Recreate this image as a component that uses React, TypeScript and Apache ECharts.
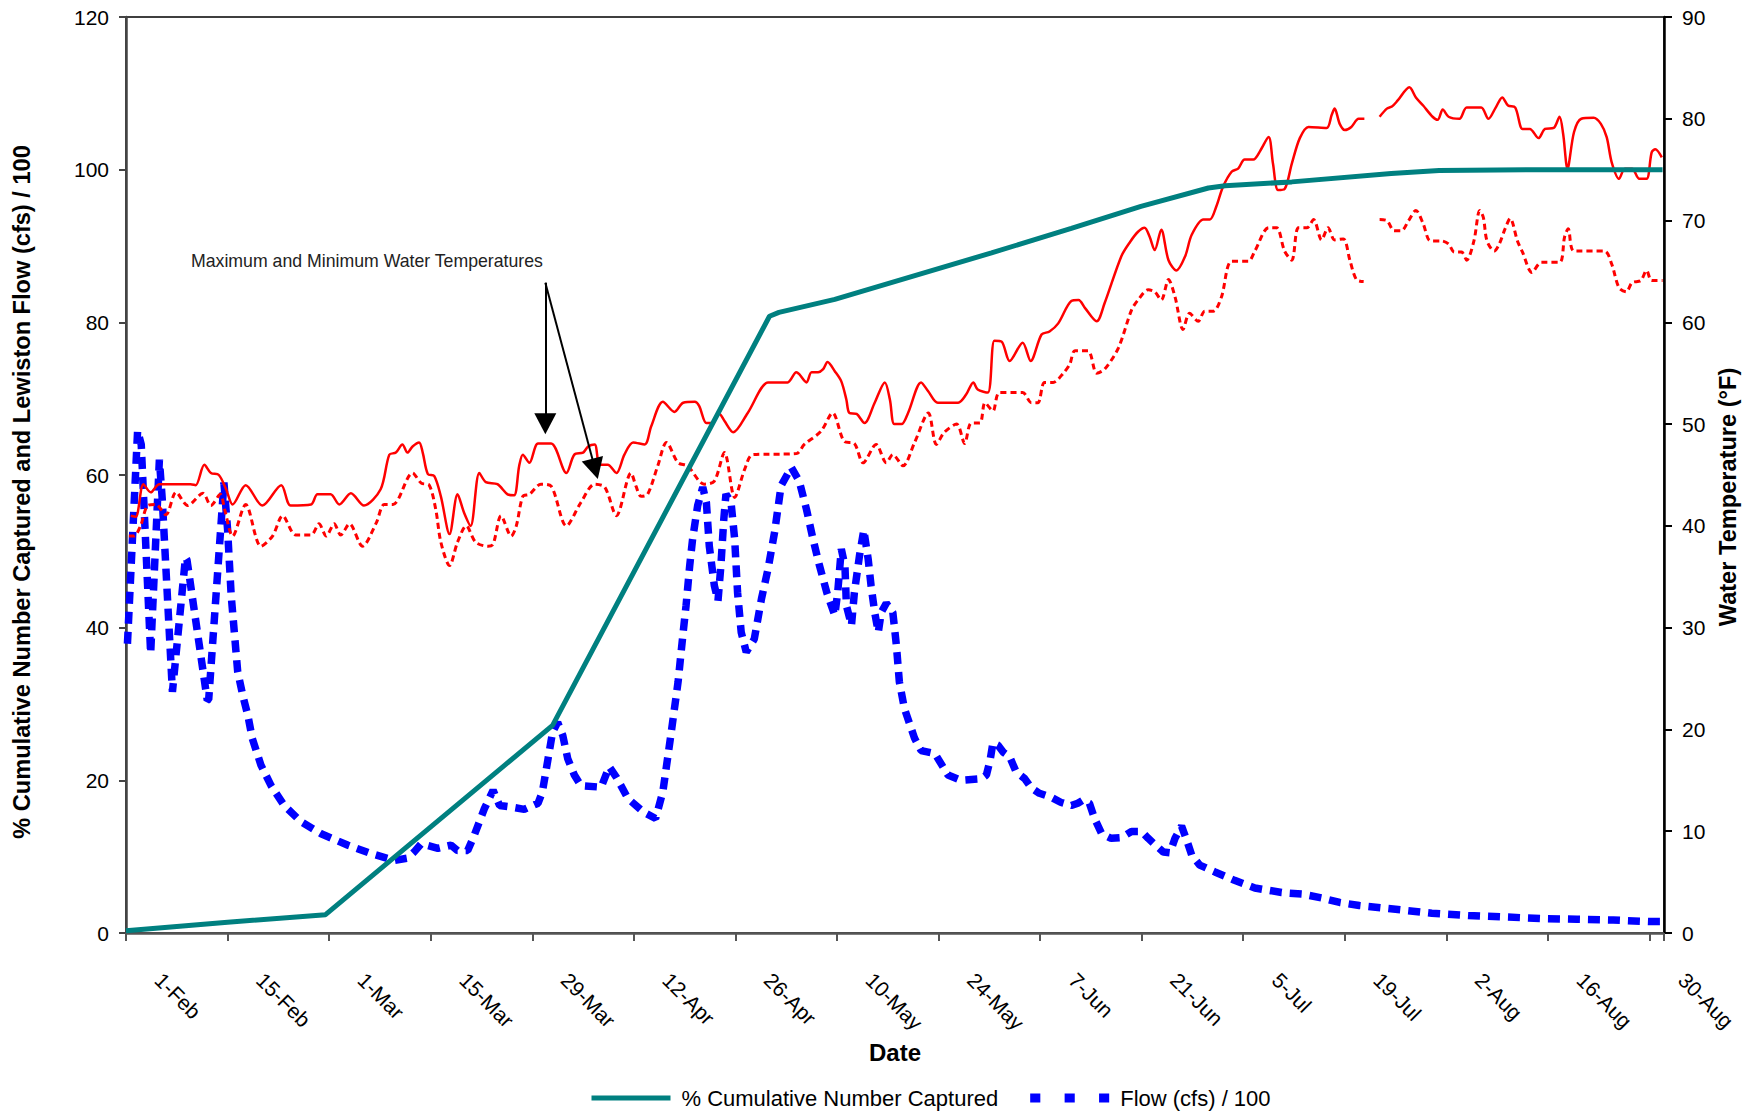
import React, { useEffect, useRef } from 'react';
import * as echarts from 'echarts';

const FONT = '"Liberation Sans", Arial, Helvetica, sans-serif';

// x values are days after 1-Feb
const tickLabels = ['1-Feb', '15-Feb', '1-Mar', '15-Mar', '29-Mar', '12-Apr', '26-Apr', '10-May', '24-May', '7-Jun', '21-Jun', '5-Jul', '19-Jul', '2-Aug', '16-Aug', '30-Aug'];

const capturePct: [number, number][] = [
  [0, 0.3], [14, 1.4], [27.5, 2.4], [58.8, 27.2], [88.7, 80.8], [90, 81.3], [97.7, 83.0], [119.3, 89.1],
  [130.3, 92.3], [139.9, 95.2], [149.2, 97.6], [151.5, 97.9], [160.7, 98.4], [174.4, 99.5], [181, 99.9],
  [195, 100], [211.8, 100],
];

const flow: [number, number][] = [
  [0.2, 37.9], [1.6, 65.8], [2.1, 64.0], [3.4, 36.6], [4.6, 62.0], [5.0, 56.8], [6.4, 31.6], [8.2, 49.2], [8.4, 48.9], [11.2, 30.5],
  [11.4, 30.6], [13.5, 59.0], [14.0, 52.9], [14.5, 44.2], [15.4, 34.2], [16.1, 31.1], [16.8, 28.5], [17.4, 25.5], [18.6, 22.0], [20.0, 19.3],
  [21.8, 16.7], [24.1, 14.6], [26.9, 13.0], [30.6, 11.5], [33.8, 10.4], [37.0, 9.5], [38.8, 9.8], [39.7, 10.6], [40.7, 11.7], [43.0, 11.1],
  [44.8, 11.5], [45.7, 10.8], [47.1, 10.8], [48.0, 12.8], [49.4, 16.3], [50.6, 18.7], [51.5, 16.7], [53.1, 16.5], [54.9, 16.2], [56.8, 17.0],
  [57.4, 18.5], [58.1, 22.4], [58.8, 26.3], [59.5, 27.6], [60.2, 25.9], [60.9, 22.8], [61.8, 20.7], [62.7, 19.3], [65.5, 19.1], [66.6, 21.8],
  [67.6, 20.4], [69.2, 17.6], [71.4, 15.8], [73.0, 15.0], [74.0, 18.5], [75.1, 25.9], [76.1, 32.9], [76.8, 39.4], [77.2, 42.9], [77.7, 48.1],
  [78.1, 51.6], [78.8, 56.0], [79.5, 58.4], [80.0, 56.4], [80.4, 50.7], [81.1, 45.5], [81.6, 43.5], [82.0, 48.1], [82.4, 54.2], [82.7, 57.5],
  [83.4, 56.4], [83.9, 51.6], [84.3, 44.6], [84.8, 39.4], [85.5, 36.8], [86.6, 38.5], [87.6, 43.8], [88.5, 47.7], [89.4, 52.5], [90.3, 58.6],
  [91.7, 61.0], [92.8, 59.2], [93.8, 55.5], [94.7, 51.6], [95.6, 48.1], [96.6, 44.6], [97.7, 41.6], [98.1, 44.6], [98.6, 50.3], [99.1, 48.1],
  [99.3, 42.9], [100.0, 40.3], [100.4, 44.6], [101.1, 49.4], [101.7, 52.8], [102.3, 49.0], [102.7, 45.5], [103.2, 42.0], [103.7, 39.4], [104.1, 42.0],
  [104.8, 43.2], [105.7, 42.0], [106.2, 37.6], [106.6, 32.9], [107.3, 29.4], [108.7, 25.5], [109.6, 23.9], [111.5, 23.5], [113.3, 20.7], [115.1, 20.0],
  [117.9, 20.2], [118.6, 20.7], [119.1, 22.6], [119.5, 24.9], [120.2, 24.6], [120.9, 23.7], [121.8, 23.1], [122.7, 21.1], [123.9, 20.2], [124.8, 19.0],
  [125.9, 18.3], [127.5, 17.8], [128.9, 17.1], [130.3, 16.7], [131.2, 17.0], [131.9, 17.4], [132.8, 17.0], [133.5, 15.0], [134.5, 13.0], [135.8, 12.4],
  [137.2, 12.5], [138.6, 13.3], [140.0, 13.3], [140.9, 12.4], [141.8, 11.6], [143.0, 10.6], [143.9, 10.5], [144.6, 12.4], [145.5, 14.0], [146.2, 12.2],
  [146.9, 10.2], [148.0, 8.9], [150.1, 8.0], [152.8, 6.9], [155.6, 5.9], [159.3, 5.3], [162.1, 5.1], [164.8, 4.6], [167.3, 4.0], [170, 3.6],
  [175, 3.1], [180, 2.6], [185, 2.3], [190, 2.1], [195, 1.9], [200, 1.8], [205, 1.7], [210, 1.5], [211.8, 1.5],
];

const maxTemp: [number, number | null][] = [
  [0.66, 41.0], [1.35, 40.9], [2.4, 44.1], [3.4, 43.3], [4.6, 44.1], [8.9, 44.1], [9.6, 44.0], [10.8, 46.0], [11.7, 45.2], [12.8, 45.0],
  [13.8, 43.6], [14.7, 42.1], [16.5, 44.0], [18.8, 42.0], [21.4, 44.0], [22.7, 42.0], [25.5, 42.1], [26.4, 43.1], [28.2, 43.1], [29.4, 42.1],
  [31.0, 43.2], [32.8, 42.0], [35.1, 43.6], [36.3, 47.0], [37.2, 47.2], [38.1, 48.0], [38.8, 47.2], [39.5, 47.8], [40.4, 48.2], [40.9, 47.2],
  [41.6, 45.1], [42.5, 44.9], [43.4, 42.9], [44.6, 39.2], [45.7, 43.1], [46.6, 41.3], [47.5, 40.0], [48.7, 45.2], [49.6, 44.3], [51.2, 44.1],
  [52.6, 43.1], [53.5, 43.0], [54.2, 45.9], [54.7, 47.0], [55.6, 46.2], [56.8, 48.1], [58.6, 48.1], [60.7, 45.2], [61.8, 47.0], [63.0, 47.2],
  [63.7, 47.8], [64.6, 48.0], [65.3, 46.0], [66.4, 46.0], [67.6, 45.2], [68.7, 47.0], [69.9, 48.2], [71.5, 48.0], [72.4, 49.8], [74.0, 52.2],
  [75.6, 51.2], [76.8, 52.1], [78.4, 52.2], [79.0, 51.8], [80.0, 50.1], [80.7, 50.1], [81.8, 51.0], [82.5, 50.3], [83.7, 49.2], [85.7, 51.1],
  [88.5, 54.1], [89.4, 54.1], [91.2, 54.1], [92.4, 55.1], [92.8, 54.9], [93.8, 54.1], [94.5, 55.1], [95.4, 55.1], [96.1, 55.4], [96.7, 56.1],
  [97.7, 55.2], [98.6, 54.2], [99.3, 52.4], [99.7, 51.1], [100.7, 51.0], [101.8, 50.1], [103.2, 52.1], [104.6, 54.1], [105.3, 52.4], [105.9, 50.0],
  [106.9, 50.0], [107.8, 51.1], [109.6, 54.1], [110.6, 53.2], [111.9, 52.1], [114.7, 52.1], [115.8, 52.9], [116.8, 54.1], [117.4, 53.4], [118.8, 53.1],
  [119.7, 58.2], [120.7, 58.1], [121.8, 56.2], [123.6, 58.0], [124.7, 56.2], [126.2, 58.8], [127.3, 59.1], [128.5, 59.9], [130.3, 62.1], [131.3, 62.2],
  [132.2, 61.4], [133.8, 60.1], [134.9, 61.9], [137.2, 66.5], [138.4, 67.9], [139.5, 68.9], [140.4, 69.3], [141.1, 68.4], [141.8, 67.1], [142.7, 69.1],
  [143.7, 66.1], [144.8, 65.1], [146.0, 66.5], [146.9, 68.6], [148.5, 70.1], [149.4, 70.1], [150.3, 71.4], [151.2, 73.3], [152.4, 74.8], [153.3, 75.1],
  [154.2, 76.0], [155.4, 76.0], [156.3, 76.8], [157.5, 78.2], [158.1, 75.6], [158.8, 73.0], [159.7, 73.1], [160.7, 75.6], [161.8, 78.1], [163.0, 79.2],
  [165.5, 79.1], [166.2, 80.4], [166.6, 81.0], [167.3, 79.5], [168.0, 78.9], [168.9, 79.2], [169.9, 80.0], [170.7, 80.0], [171.7, null], [172.8, 80.2],
  [173.8, 81.0], [174.5, 81.2], [175.3, 81.8], [176.9, 83.1], [177.8, 82.1], [178.8, 81.3], [180.1, 80.2], [180.8, 79.9], [181.5, 80.9], [182.3, 80.2],
  [183.8, 80.0], [184.8, 81.1], [186.8, 81.1], [187.8, 80.0], [188.8, 81.1], [189.7, 82.1], [190.5, 81.3], [191.5, 81.1], [192.5, 79.0], [193.5, 79.0],
  [194.7, 78.1], [195.6, 79.0], [196.8, 79.1], [197.6, 80.2], [198.1, 78.5], [198.7, 75.1], [199.6, 78.7], [200.6, 80.0], [202.3, 80.1], [203.3, 79.5],
  [204.1, 78.2], [204.8, 75.7], [205.8, 74.1], [206.6, 75.1], [207.6, 75.1], [208.6, 74.1], [209.6, 74.1], [210.3, 76.7], [210.8, 77.0], [211.7, 76.2],
];

const minTemp: [number, number | null][] = [
  [0.4, 39.0], [1.1, 39.0], [2.0, 40.0], [3.0, 42.0], [4.1, 42.1], [5.5, 41.1], [6.9, 43.3], [8.5, 42.0], [10.6, 43.2], [11.7, 42.0],
  [13.0, 43.1], [13.6, 41.6], [14.7, 39.0], [16.5, 42.1], [18.6, 38.0], [20.2, 39.0], [21.6, 41.0], [23.4, 39.1], [25.5, 39.1], [26.6, 40.2],
  [27.6, 39.0], [28.7, 40.2], [29.6, 39.1], [30.8, 40.2], [32.6, 38.0], [34.5, 40.3], [35.6, 42.1], [36.8, 42.1], [39.5, 45.2], [40.7, 44.2],
  [41.8, 44.0], [42.7, 41.6], [43.4, 38.4], [44.6, 36.1], [45.7, 38.4], [46.9, 40.0], [48.2, 38.4], [49.9, 38.0], [50.6, 38.2], [51.7, 41.0],
  [53.1, 39.0], [53.8, 40.0], [54.7, 42.9], [55.6, 43.1], [57.2, 44.1], [58.6, 43.9], [60.7, 40.0], [62.7, 42.3], [64.6, 44.1], [66.0, 43.8],
  [67.6, 41.0], [69.6, 45.2], [70.3, 43.9], [71.0, 42.9], [71.9, 43.1], [73.3, 45.9], [74.5, 48.2], [76.1, 46.2], [77.4, 45.9], [79.7, 44.1],
  [81.1, 44.4], [82.5, 47.2], [83.9, 42.8], [85.3, 45.6], [86.4, 47.0], [92.4, 47.1], [93.5, 48.0], [95.8, 49.3], [97.4, 51.1], [99.0, 48.3],
  [100.4, 48.1], [101.6, 46.2], [103.4, 48.0], [104.8, 46.2], [105.7, 47.0], [107.1, 45.9], [108.7, 48.2], [110.6, 51.1], [111.7, 48.0], [112.8, 49.2],
  [114.5, 50.0], [115.6, 48.1], [116.5, 50.1], [117.7, 50.1], [118.4, 52.1], [119.5, 51.3], [120.4, 53.1], [123.6, 53.1], [124.8, 52.1], [125.7, 52.1],
  [126.6, 54.1], [127.8, 54.1], [129.2, 55.0], [130.1, 55.9], [130.8, 57.2], [132.6, 57.2], [133.8, 55.0], [134.9, 55.4], [136.8, 57.5], [138.6, 61.2],
  [139.5, 62.2], [140.9, 63.2], [141.8, 63.0], [142.7, 62.2], [143.7, 64.2], [144.6, 62.5], [145.7, 59.3], [146.6, 60.9], [147.8, 60.1], [148.7, 61.1],
  [149.9, 61.1], [151.0, 62.5], [152.4, 66.0], [154.7, 66.0], [155.6, 67.0], [157.5, 69.3], [158.6, 69.3], [159.7, 67.0], [160.7, 66.1], [161.6, 69.3],
  [162.8, 69.3], [163.7, 70.1], [164.8, 68.1], [165.7, 69.3], [166.6, 68.1], [167.8, 68.2], [168.7, 66.1], [169.6, 64.2], [170.6, 64.0], [171.7, null],
  [172.8, 70.1], [173.8, 70.0], [174.8, 69.0], [175.8, 69.0], [176.8, 70.0], [177.8, 71.0], [178.8, 69.7], [179.8, 68.0], [181.3, 68.0], [182.3, 67.7],
  [183.1, 66.9], [184.1, 66.9], [184.8, 66.1], [185.8, 68.0], [186.6, 71.0], [187.1, 70.3], [187.6, 68.0], [188.6, 67.0], [189.3, 67.7], [190.1, 69.2],
  [190.8, 70.2], [191.8, 68.0], [192.5, 66.9], [193.8, 64.9], [195.1, 65.9], [197.6, 65.9], [198.3, 68.4], [198.8, 69.2], [199.6, 67.0], [203.8, 67.0],
  [204.8, 65.7], [205.8, 63.4], [206.8, 63.0], [207.6, 63.9], [208.8, 64.1], [209.6, 65.1], [210.3, 64.1], [211.8, 64.1],
];

const annotationText = 'Maximum and Minimum Water Temperatures';
// annotation arrows, in (day, left-axis value)
const arrowStart: [number, number] = [57.8, 85.2];
const arrowEnd1: [number, number] = [57.8, 66.7];
const arrowEnd2: [number, number] = [64.66, 60.8];

const toData = (arr: [number, number | null][]) => arr.map(([x, y]) => [x, y === null ? '-' : y]);

const hiddenSymbol = { color: 'rgba(0,0,0,0)', borderColor: 'rgba(0,0,0,0)', borderWidth: 0, opacity: 0 };

export default function App() {
  const ref = useRef<HTMLDivElement>(null);
  useEffect(() => {
    document.body.style.margin = '0';
    const chart = echarts.init(ref.current!, null, { renderer: 'svg' });
    const option: any = {
      animation: false,
      backgroundColor: '#ffffff',
      textStyle: { fontFamily: FONT },
      grid: { left: 126, right: 89, top: 17, bottom: 184, show: true, borderColor: '#000', borderWidth: 1.5, backgroundColor: 'transparent' },
      legend: {
        left: 584, top: 1082, itemWidth: 79, itemHeight: 14, itemGap: 32, selectedMode: false,
        textStyle: { fontSize: 22, color: '#000', fontFamily: FONT, padding: [0, 0, 0, 6] },
        data: [
          { name: '% Cumulative Number Captured', itemStyle: hiddenSymbol, lineStyle: { color: '#008080', width: 5, type: 'solid' } },
          {
            name: 'Flow (cfs) / 100',
            icon: 'path://M0,0h10v9h-10z M34,0h10v9h-10z M68,0h10v9h-10z',
            itemStyle: { color: '#0000FF', borderWidth: 0 },
          },
        ],
      },
      xAxis: {
        type: 'value', min: 0, max: 212, interval: 14,
        name: 'Date', nameLocation: 'middle', nameGap: 99,
        nameTextStyle: { fontSize: 24, fontWeight: 'bold', color: '#000', fontFamily: FONT },
        axisLine: { show: true, onZero: false, lineStyle: { color: '#555', width: 2.5 } },
        axisTick: { show: true, length: 8, lineStyle: { color: '#555', width: 2 } },
        splitLine: { show: false },
        axisLabel: {
          rotate: -45, align: 'left', verticalAlign: 'middle', margin: 11, padding: [0, 0, 0, 46],
          fontSize: 21, color: '#000', fontFamily: FONT,
          formatter: (v: number) => {
            const i = v / 14;
            return Math.abs(i - Math.round(i)) < 1e-6 ? tickLabels[Math.round(i)] ?? '' : '';
          },
        },
      },
      yAxis: [
        {
          type: 'value', min: 0, max: 120, interval: 20, position: 'left',
          name: '% Cumulative Number Captured and Lewiston Flow (cfs) / 100',
          nameLocation: 'middle', nameRotate: 90, nameGap: 92,
          nameTextStyle: { fontSize: 23.6, fontWeight: 'bold', color: '#000', fontFamily: FONT, padding: [0, 34, 0, 0] },
          axisLine: { show: true, onZero: false, lineStyle: { color: '#444', width: 2.5 } },
          axisTick: { show: true, length: 7, lineStyle: { color: '#444', width: 2 } },
          splitLine: { show: false },
          axisLabel: { fontSize: 21, color: '#000', margin: 17, fontFamily: FONT },
        },
        {
          type: 'value', min: 0, max: 90, interval: 10, position: 'right',
          name: 'Water Temperature (°F)',
          nameLocation: 'middle', nameRotate: 90, nameGap: 52,
          nameTextStyle: { fontSize: 23.6, fontWeight: 'bold', color: '#000', fontFamily: FONT, padding: [0, 44, 0, 0] },
          axisLine: { show: true, onZero: false, lineStyle: { color: '#000', width: 2.5 } },
          axisTick: { show: true, length: 8, lineStyle: { color: '#000', width: 2 } },
          splitLine: { show: false },
          axisLabel: { fontSize: 21, color: '#000', margin: 18, fontFamily: FONT },
        },
      ],
      series: [
        {
          name: 'Flow (cfs) / 100', type: 'line', xAxisIndex: 0, yAxisIndex: 0, symbol: 'none', z: 2,
          data: toData(flow),
          itemStyle: { color: '#0000FF' },
          lineStyle: { color: '#0000FF', width: 7.5, type: [12, 8], cap: 'butt' },
        },
        {
          name: 'Maximum Water Temperature', type: 'line', yAxisIndex: 1, symbol: 'none', z: 3, smooth: 0.3, connectNulls: false,
          data: toData(maxTemp),
          itemStyle: { color: '#FF0000' },
          lineStyle: { color: '#FF0000', width: 2.5 },
        },
        {
          name: 'Minimum Water Temperature', type: 'line', yAxisIndex: 1, symbol: 'none', z: 3, smooth: 0.3, connectNulls: false,
          data: toData(minTemp),
          itemStyle: { color: '#FF0000' },
          lineStyle: { color: '#FF0000', width: 3, type: [6, 4] },
        },
        {
          name: '% Cumulative Number Captured', type: 'line', yAxisIndex: 0, symbol: 'none', z: 4,
          data: toData(capturePct),
          itemStyle: { color: '#008080' },
          lineStyle: { color: '#008080', width: 5 },
          markLine: {
            silent: true, symbol: ['none', 'triangle'], symbolSize: [22, 21],
            label: { show: false },
            lineStyle: { color: '#000', width: 2, type: 'solid' },
            data: [
              [{ coord: arrowStart }, { coord: arrowEnd1 }],
              [{ coord: arrowStart }, { coord: arrowEnd2 }],
            ],
          },
        },
      ],
      graphic: [
        {
          type: 'text', left: 191, top: 252, silent: true,
          style: { text: annotationText, fontSize: 17.7, fontFamily: FONT, fill: '#222' },
        },
      ],
    };
    chart.setOption(option);
    return () => chart.dispose();
  }, []);
  return <div ref={ref} style={{ width: 1753, height: 1117, background: '#fff' }} />;
}
